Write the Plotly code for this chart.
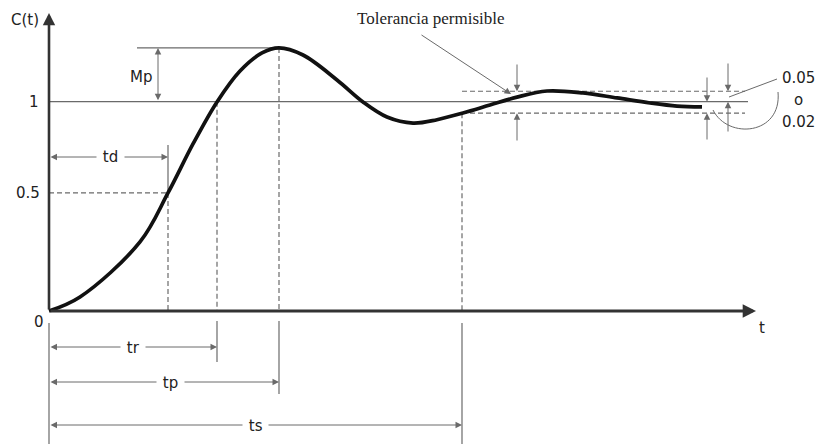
import plotly.graph_objects as go

# ---- data (schematic units) ----
t_vals = [0, 0.31, 0.91, 1.19, 1.44, 1.68, 1.91, 2.13, 2.30, 2.54, 2.88,
          3.14, 3.38, 3.64, 3.88, 4.14, 4.41, 4.68, 4.98, 5.34, 5.68, 6.01, 6.28, 6.53]
c_vals = [0, 0.067, 0.330, 0.564, 0.798, 0.999, 1.147, 1.233, 1.257, 1.223,
          1.104, 0.999, 0.927, 0.898, 0.914, 0.946, 0.984, 1.022, 1.051, 1.042, 1.018,
          0.994, 0.979, 0.975]
t_d, t_r, t_p, t_s = 1.19, 1.68, 2.30, 4.13
level_final = 1.0
level_half = 0.564          # level drawn for the "0.5" mark
level_peak = 1.257
tol_upper = 1.05
tol_lower = 0.945
y_tick_text = ["0", "0.5", "1"]
time_labels = ["td", "tr", "tp", "ts"]
tol_texts = ["0.05", "o", "0.02"]

# ---- pixel helpers for layout placement ----
W, H = 817, 444
def X(px):
    return (px - 49) / 100.0
def Y(py):
    return (311 - py) / 209.3

GRAY = "#6a6a6a"
DARK = "#333333"
FONT = "DejaVu Sans"

fig = go.Figure()
fig.add_trace(go.Scatter(x=t_vals, y=c_vals, mode="lines",
                         line=dict(color="#111111", width=3.7, shape="spline", smoothing=1.0),
                         hoverinfo="skip", showlegend=False))

shapes = []
def seg(x0, y0, x1, y1, dash=None, color=GRAY, width=1.2):
    ln = dict(color=color, width=width)
    if dash:
        ln["dash"] = dash
    shapes.append(dict(type="line", xref="x", yref="y", x0=x0, y0=y0, x1=x1, y1=y1,
                       line=ln, layer="below"))

DASH = "5px,3px"
# level 1 line
seg(0, level_final, X(748), level_final)
# Mp top line
seg(X(137), level_peak, t_p, level_peak)
# 0.5 dashed
seg(0, level_half, t_d, level_half, dash=DASH)
# td vertical: solid above, dashed below
seg(t_d, Y(145), t_d, level_half)
seg(t_d, level_half, t_d, 0, dash=DASH)
# dashed verticals
seg(t_r, level_final, t_r, 0, dash=DASH)
seg(t_p, level_peak, t_p, 0, dash=DASH)
seg(t_s, tol_lower, t_s, 0, dash=DASH)
# tolerance band
seg(t_s, tol_upper, X(745), tol_upper, dash=DASH)
seg(t_s, tol_lower, X(745), tol_lower, dash=DASH)
# extension lines below the time axis
seg(0, Y(323), 0, Y(444))
seg(t_r, Y(321), t_r, Y(362))
seg(t_p, Y(321), t_p, Y(394))
seg(t_s, Y(323), t_s, Y(444))
# pointer from 0.05
seg(X(777), Y(79), X(729), Y(97), width=1)
# curved pointer from 0.02
shapes.append(dict(type="path", xref="x", yref="y",
                   path=f"M {X(778)},{Y(92)} C {X(782)},{Y(135)} {X(728)},{Y(140)} {X(713)},{Y(110)}",
                   line=dict(color=GRAY, width=1)))

ann = []
def arrow(x, y, ax, ay, both=False, width=1.0, size=1.3, color=GRAY, head=2):
    ann.append(dict(x=x, y=y, ax=ax, ay=ay, xref="x", yref="y", axref="x", ayref="y",
                    text="", showarrow=True, arrowhead=head, startarrowhead=head,
                    arrowside="end+start" if both else "end",
                    arrowwidth=width, arrowsize=size, startarrowsize=size,
                    arrowcolor=color, standoff=0, startstandoff=0))

# main axes
arrow(0, Y(13), 0, 0, width=2.6, size=0.95, color=DARK)
arrow(X(756), 0, 0, 0, width=2.8, size=0.95, color=DARK)
# Mp
arrow(X(158), level_peak, X(158), level_final, both=True)
# td, tr, tp, ts dimension arrows
arrow(t_d, Y(157), 0, Y(157), both=True)
arrow(t_r, Y(347), 0, Y(347), both=True)
arrow(t_p, Y(382), 0, Y(382), both=True)
arrow(t_s, Y(425), 0, Y(425), both=True)
# tolerance marks at the start of the band
arrow(X(517), tol_upper, X(517), Y(63))
arrow(X(517), tol_lower, X(517), Y(142))
# tolerance marks at the right end
arrow(X(707), level_final, X(707), Y(76))
arrow(X(707), tol_lower, X(707), Y(141))
arrow(X(728), tol_upper, X(728), Y(62))
arrow(X(728), level_final, X(728), Y(133))
# "Tolerancia permisible" pointer
arrow(X(511), Y(94), X(420), Y(34))

def label(px, py, text, size=15, family=FONT, bg=None, color="#222222"):
    d = dict(x=X(px), y=Y(py), xref="x", yref="y", text=text, showarrow=False,
             font=dict(family=family, size=size, color=color),
             xanchor="center", yanchor="middle")
    if bg:
        d["bgcolor"] = bg
        d["borderpad"] = 1
    ann.append(d)

label(25, 20, "C(t)")
label(34, 102, y_tick_text[2])
label(28, 193, y_tick_text[1])
label(39, 322, y_tick_text[0])
label(762, 328, "t")
label(141, 77, "Mp")
label(110, 157, " " + time_labels[0] + " ", bg="white")
label(133, 348, " " + time_labels[1] + " ", bg="white")
label(170, 383, " " + time_labels[2] + " ", bg="white")
label(255, 426, " " + time_labels[3] + " ", bg="white")
label(798, 78, tol_texts[0])
label(798, 100, tol_texts[1])
label(798, 122, tol_texts[2])
label(431, 18, "Tolerancia permisible", size=17, family="Liberation Serif")

fig.update_layout(
    width=W, height=H, margin=dict(l=0, r=0, t=0, b=0),
    paper_bgcolor="white", plot_bgcolor="white",
    xaxis=dict(range=[X(0), X(W)], visible=False, fixedrange=True),
    yaxis=dict(range=[Y(H), Y(0)], visible=False, fixedrange=True),
    shapes=shapes, annotations=ann, showlegend=False,
)
fig.write_html("out.html")
